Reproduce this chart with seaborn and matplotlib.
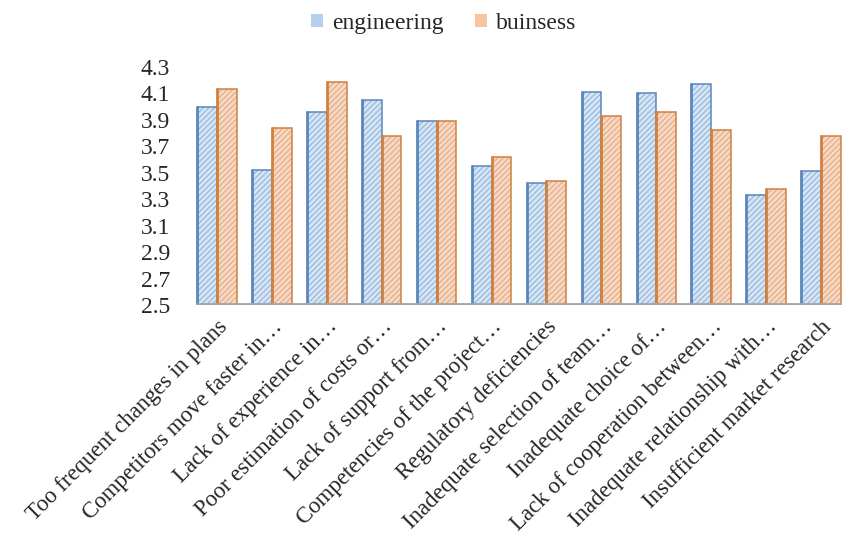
import matplotlib
matplotlib.use("Agg")
import matplotlib.pyplot as plt
import seaborn as sns
import pandas as pd
from matplotlib.patches import Patch

categories = [
    "Too frequent changes in plans",
    "Competitors move faster in…",
    "Lack of experience in…",
    "Poor estimation of costs or…",
    "Lack of support from…",
    "Competencies of the project…",
    "Regulatory deficiencies",
    "Inadequate selection of team…",
    "Inadequate choice of…",
    "Lack of cooperation between…",
    "Inadequate relationship with…",
    "Insufficient market research",
]
engineering = [4.00, 3.52, 3.96, 4.05, 3.89, 3.55, 3.42, 4.11, 4.10, 4.17, 3.33, 3.51]
business = [4.13, 3.84, 4.19, 3.78, 3.89, 3.62, 3.44, 3.93, 3.96, 3.82, 3.38, 3.78]
series = ["engineering", "buinsess"]
y_ticks = [2.5, 2.7, 2.9, 3.1, 3.3, 3.5, 3.7, 3.9, 4.1, 4.3]

df = pd.DataFrame({
    "factor": categories * 2,
    "value": engineering + business,
    "group": [series[0]] * len(categories) + [series[1]] * len(categories),
})

fills = {"engineering": "#d3e5f7", "buinsess": "#fbd8bf"}
hatch_cols = {"engineering": "#8fb4de", "buinsess": "#eba87a"}
edge_cols = {"engineering": "#5a86bd", "buinsess": "#d0803f"}
legend_cols = {"engineering": "#b4d0ee", "buinsess": "#f6c4a0"}

sns.set_theme(style="white")
plt.rcParams["font.family"] = ["Liberation Serif", "DejaVu Serif"]
plt.rcParams["hatch.linewidth"] = 0.8

fig = plt.figure(figsize=(8.42, 5.44), dpi=100)
ax = fig.add_axes([195 / 842, 239 / 544, 648 / 842, 238 / 544])

sns.barplot(data=df, x="factor", y="value", hue="group", order=categories,
            hue_order=series, palette=fills, width=0.72, ax=ax,
            legend=False, errorbar=None)

for name, cont in zip(series, ax.containers):
    for bar in cont:
        bar.set_hatch("//////")
        bar.set_edgecolor(hatch_cols[name])
        bar.set_linewidth(0)
        # darker outline, heavier on the left side face
        x0, w, h = bar.get_x(), bar.get_width(), bar.get_height()
        ax.plot([x0 + w, x0 + w, x0], [2.5, h, h],
                color=edge_cols[name], lw=1.1, zorder=3, solid_joinstyle="miter")
        ax.plot([x0, x0], [2.5, h], color=edge_cols[name], lw=2.0, zorder=3)

# floor of the chart
ax.axhline(2.5, color="#a6a6a6", lw=3.5, zorder=4, xmin=0.005)

ax.set_ylim(2.5, 4.3)
ax.set_xlim(-0.4, 11.4)
ax.set_yticks(y_ticks)
ax.set_yticklabels([f"{v:.1f}" for v in y_ticks], fontsize=17)
ax.tick_params(axis="y", length=0, pad=18)
ax.tick_params(axis="x", length=0, pad=8)
ax.set_xticks(range(len(categories)))
ax.set_xticklabels(categories, rotation=45, ha="right", rotation_mode="anchor",
                   fontsize=16.5)
ax.set_xlabel("")
ax.set_ylabel("")
for s in ax.spines.values():
    s.set_visible(False)

handles = [Patch(facecolor=legend_cols[s], edgecolor="none") for s in series]
fig.legend(handles, series, loc="upper center", bbox_to_anchor=(0.527, 1.015),
           ncol=2, frameon=False, fontsize=17, handlelength=0.5, handleheight=0.5,
           handletextpad=0.4, columnspacing=1.3)

fig.savefig("out.png", dpi=100)
